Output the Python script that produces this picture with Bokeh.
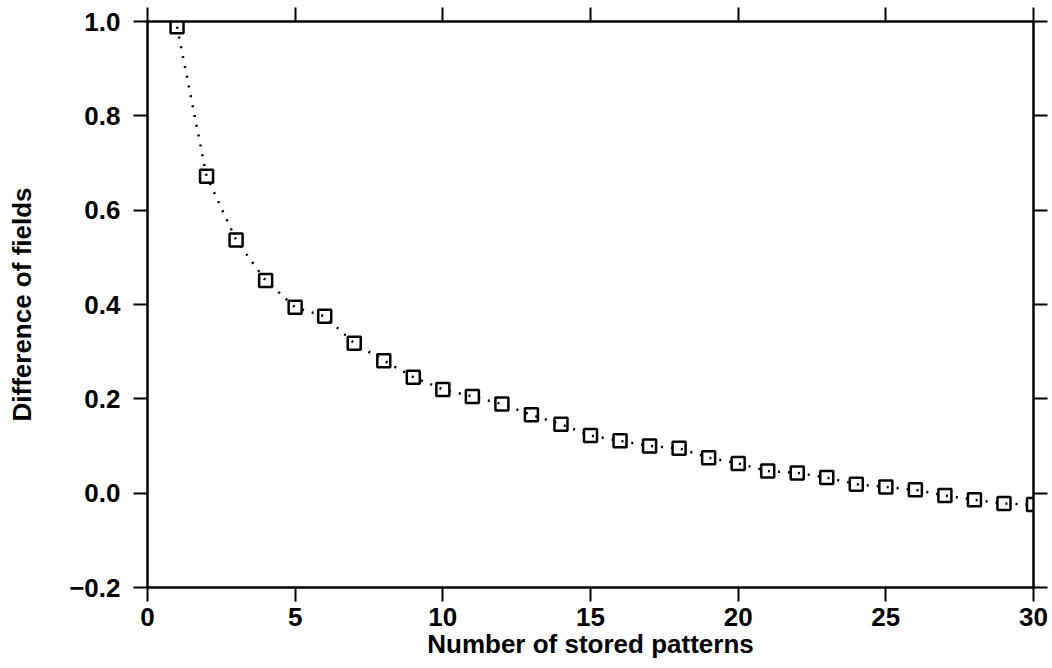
from bokeh.plotting import figure
from bokeh.models import LinearAxis, FixedTicker, Range1d, CustomJSTickFormatter, CustomLabelingPolicy
from bokeh.embed import file_html
from bokeh.resources import INLINE

patterns = list(range(1, 31))
difference = [0.989, 0.672, 0.537, 0.451, 0.394, 0.375, 0.318, 0.281, 0.246, 0.220,
              0.205, 0.189, 0.166, 0.146, 0.122, 0.111, 0.100, 0.095, 0.075, 0.063,
              0.047, 0.043, 0.033, 0.019, 0.013, 0.007, -0.005, -0.014, -0.022, -0.024]
x_ticks = [0, 5, 10, 15, 20, 25, 30]
y_ticks = [-0.2, 0.0, 0.2, 0.4, 0.6, 0.8, 1.0]

FONT = "Liberation Sans"
FSIZE = "26px"

p = figure(width=1052, height=668, output_backend="svg", toolbar_location=None,
           x_range=Range1d(0, 30), y_range=Range1d(-0.2, 1.0),
           x_axis_location=None, y_axis_location=None,
           min_border_left=147, min_border_right=19, min_border_top=21, min_border_bottom=81)
p.grid.visible = False
p.outline_line_color = "black"
p.outline_line_width = 2
p.background_fill_color = "white"
p.border_fill_color = "white"

def style(ax):
    ax.axis_line_width = 2
    ax.axis_line_color = "black"
    ax.major_tick_line_width = 2
    ax.major_tick_line_color = "black"
    ax.major_tick_out = 14
    ax.major_tick_in = 0
    ax.minor_tick_line_color = None
    ax.major_label_text_font = FONT
    ax.major_label_text_font_style = "bold"
    ax.major_label_text_font_size = FSIZE
    ax.major_label_text_color = "black"
    ax.axis_label_text_font = FONT
    ax.axis_label_text_font_style = "bold"
    ax.axis_label_text_font_size = FSIZE
    ax.axis_label_text_color = "black"

def no_labels():
    return CustomLabelingPolicy(code="for (const i of Array.from(indices)) { indices.unset(i); } return indices;")

blank = CustomJSTickFormatter(code="return '';")

xb = LinearAxis(ticker=FixedTicker(ticks=x_ticks), axis_label="Number of stored patterns")
style(xb)
xb.major_label_standoff = 6
xb.axis_label_standoff = 0
p.add_layout(xb, "below")

xt = LinearAxis(ticker=FixedTicker(ticks=x_ticks), formatter=blank, major_label_policy=no_labels())
style(xt)
xt.major_label_standoff = 0
p.add_layout(xt, "above")

yl = LinearAxis(ticker=FixedTicker(ticks=y_ticks), axis_label="Difference of fields",
                formatter=CustomJSTickFormatter(code="return tick.toFixed(1).replace('-', '\u2212');"))
style(yl)
yl.major_label_standoff = 13
yl.axis_label_standoff = 29
p.add_layout(yl, "left")

yr = LinearAxis(ticker=FixedTicker(ticks=y_ticks), formatter=blank, major_label_policy=no_labels())
style(yr)
yr.major_label_standoff = 0
p.add_layout(yr, "right")

p.line(patterns, difference, line_color="black", line_width=2.5, line_dash="2 8")
p.scatter(patterns, difference, marker="square", size=13, line_color="black",
          line_width=2.5, fill_alpha=0)

open("out.html", "w").write(file_html(p, INLINE))
